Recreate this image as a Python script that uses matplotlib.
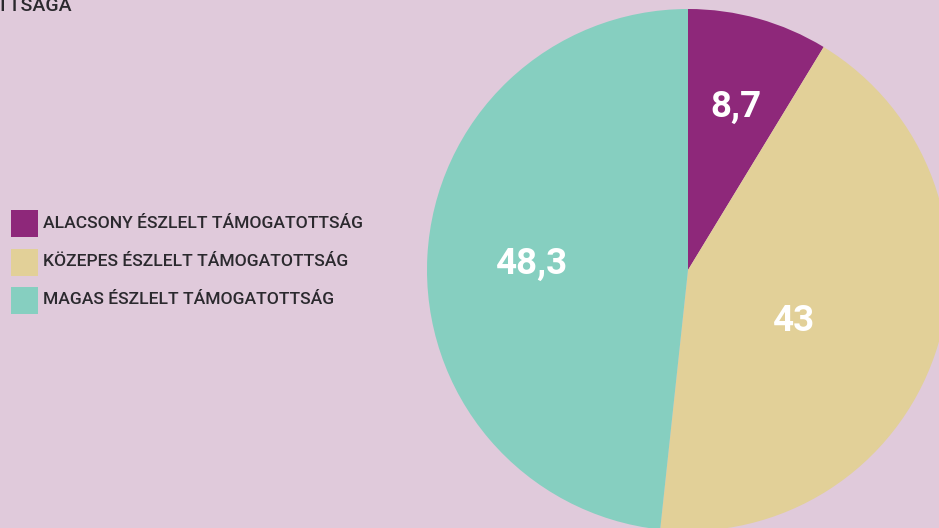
import matplotlib.pyplot as plt
from matplotlib.patches import Rectangle

plt.rcParams['font.family'] = ['Roboto', 'DejaVu Sans']

# adatok
categories = ['ALACSONY ÉSZLELT TÁMOGATOTTSÁG',
              'KÖZEPES ÉSZLELT TÁMOGATOTTSÁG',
              'MAGAS ÉSZLELT TÁMOGATOTTSÁG']
values = [8.7, 43, 48.3]
value_labels = ['8,7', '43', '48,3']
colors = ['#8e287a', '#e2d098', '#86cfc0']
title = 'ÉSZLELT TÁMOGATOTTSÁGA'

bg = '#e0cadb'
txt = '#2b292e'
W, H = 939, 528

fig = plt.figure(figsize=(W / 100, H / 100), dpi=100, facecolor=bg)

# pite: kozeppont (688, 270), sugar 261 px
cx, cy, r = 688, 270, 261
ax = fig.add_axes([(cx - r) / W, (H - cy - r) / H, 2 * r / W, 2 * r / H])
ax.set_facecolor(bg)
wedges, _ = ax.pie(values, colors=colors, startangle=90, counterclock=False,
                   radius=1, wedgeprops=dict(linewidth=0))
ax.set_xlim(-1, 1)
ax.set_ylim(-1, 1)
ax.set_aspect('equal')
ax.axis('off')

# cimkek helye (pixelben)
label_pos = [(736, 107), (794, 321), (532, 264)]
for lab, (px, py) in zip(value_labels, label_pos):
    ax.text((px - cx) / r, (cy - py) / r, lab, color='white', fontsize=26.5,
            fontweight='bold', ha='center', va='center')

# jelmagyarazat
sq = 27
rows = [223, 262, 300]
for c, name, yy in zip(colors, categories, rows):
    fig.patches.append(Rectangle((11 / W, (H - yy - sq / 2) / H), sq / W, sq / H,
                                 transform=fig.transFigure, facecolor=c,
                                 edgecolor='none'))
    fig.text(43 / W, (H - yy) / H, name, color=txt, fontsize=12.6,
             fontweight='medium', ha='left', va='center')

# levagott cim a bal felso sarokban (a mintan is le van vagva)
fig.text(72 / W, (H - 11) / H, title, color=txt, fontsize=14,
         fontweight='medium', ha='right', va='baseline')

fig.savefig('out.png', dpi=100, facecolor=bg)
